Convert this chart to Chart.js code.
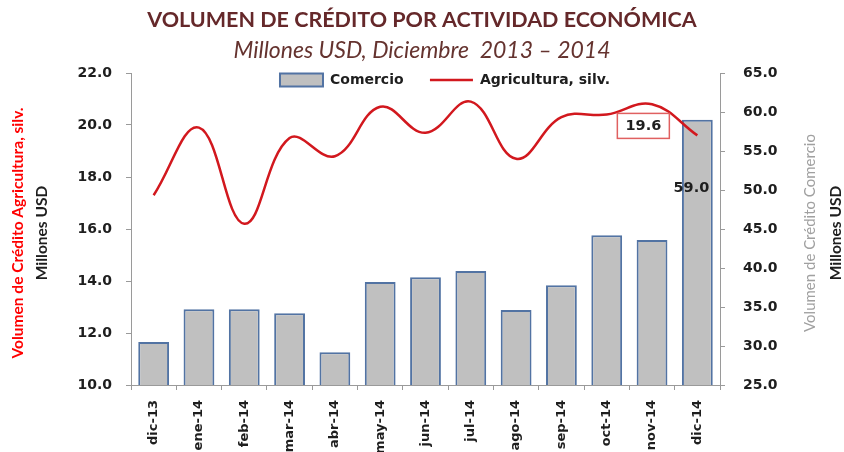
<!DOCTYPE html>
<html>
<head>
<meta charset="utf-8">
<script src="https://cdn.jsdelivr.net/npm/chart.js@4.4.1/dist/chart.umd.min.js"></script>
<style>
  html, body { margin: 0; padding: 0; background: #fff; }
</style>
</head>
<body>
<canvas id="chart" width="844" height="452"></canvas>
<script>
// ===== Data =====
const months = ['dic-13', 'ene-14', 'feb-14', 'mar-14', 'abr-14', 'may-14', 'jun-14',
                'jul-14', 'ago-14', 'sep-14', 'oct-14', 'nov-14', 'dic-14'];
const comercio = [30.5, 34.7, 34.7, 34.2, 29.2, 38.2, 38.8, 39.6, 34.6, 37.8, 44.2, 43.6, 59.0];
const agricultura = [17.3, 19.9, 16.2, 19.5, 18.8, 20.7, 19.7, 20.9, 18.7, 20.3, 20.4, 20.8, 19.6];
const leftTicks = [10, 12, 14, 16, 18, 20, 22];
const rightTicks = [25, 30, 35, 40, 45, 50, 55, 60, 65];

const TITLE_FONT = 'Lato';
const LABEL_FONT = '"DejaVu Sans"';
const AXIS_GRAY = '#9a9a9a';
const TEXT_DARK = '#1e1e1e';

// ===== Axis titles and value labels =====
function drawVertical(ctx, text, x, y, font, color) {
  ctx.save();
  ctx.translate(x, y);
  ctx.rotate(-Math.PI / 2);
  ctx.font = font;
  ctx.fillStyle = color;
  ctx.textAlign = 'center';
  ctx.textBaseline = 'middle';
  ctx.fillText(text, 0, 0);
  ctx.restore();
}

const extraText = {
  id: 'extraText',
  afterLayout(chart) {
    // legend sits inside the top of the plot, as in the original
    const lg = chart.legend;
    lg.top = chart.chartArea.top - 2;
    lg.bottom = lg.top + 30;
    lg.height = 30;
    lg.left = 46;
    lg.right = 844;
    lg.width = lg.right - lg.left;
  },
  afterDraw(chart) {
    const { ctx, chartArea } = chart;
    const cy = (chartArea.top + chartArea.bottom) / 2 + 4;

    drawVertical(ctx, 'Volumen de Crédito Agricultura, silv.', 18, cy, 'bold 15.5px ' + TITLE_FONT, '#ff0000');
    drawVertical(ctx, 'Millones USD', 42, cy, 'bold 15.5px ' + TITLE_FONT, TEXT_DARK);
    drawVertical(ctx, 'Volumen de Crédito Comercio', 810, cy, '15px ' + TITLE_FONT, '#a0a0a0');
    drawVertical(ctx, 'Millones USD', 836, cy, 'bold 15.5px ' + TITLE_FONT, TEXT_DARK);

    const last = months.length - 1;

    // boxed label on the last line point
    const pt = chart.getDatasetMeta(1).data[last];
    const bx = pt.x - 54, by = pt.y - 10;
    ctx.save();
    ctx.fillStyle = '#fff';
    ctx.strokeStyle = '#e06060';
    ctx.lineWidth = 1.5;
    ctx.fillRect(bx - 26, by - 12, 52, 25);
    ctx.strokeRect(bx - 26, by - 12, 52, 25);
    ctx.font = 'bold 14.5px ' + LABEL_FONT;
    ctx.fillStyle = TEXT_DARK;
    ctx.textAlign = 'center';
    ctx.textBaseline = 'middle';
    ctx.fillText(agricultura[last].toFixed(1), bx, by + 1);

    // label inside the last bar
    const bar = chart.getDatasetMeta(0).data[last];
    ctx.fillText(comercio[last].toFixed(1), bar.x - 6, bar.y + 68);
    ctx.restore();
  }
};

// ===== Chart =====
const ctx = document.getElementById('chart').getContext('2d');

new Chart(ctx, {
  type: 'bar',
  data: {
    labels: months,
    datasets: [
      {
        type: 'bar',
        label: 'Comercio',
        data: comercio,
        yAxisID: 'yR',
        backgroundColor: '#c0c0c0',
        borderColor: '#5273a3',
        borderWidth: 2,
        borderSkipped: false,
        categoryPercentage: 1,
        barPercentage: 0.68,
        pointStyle: 'rect',
        order: 2
      },
      {
        type: 'line',
        label: 'Agricultura, silv.',
        data: agricultura,
        yAxisID: 'yL',
        borderColor: '#d2181e',
        backgroundColor: '#d2181e',
        borderWidth: 2.5,
        pointRadius: 0,
        tension: 0.4,
        fill: false,
        pointStyle: 'line',
        order: 1
      }
    ]
  },
  options: {
    responsive: false,
    devicePixelRatio: 1,
    animation: false,
    layout: { padding: 0 },
    plugins: {
      title: {
        display: true,
        text: 'VOLUMEN DE CRÉDITO POR ACTIVIDAD ECONÓMICA',
        color: '#65282a',
        font: { family: TITLE_FONT, size: 21.5, weight: 'bold' },
        padding: { top: 7, bottom: 2 }
      },
      subtitle: {
        display: true,
        text: 'Millones USD, Diciembre  2013 – 2014',
        color: '#65332f',
        font: { family: TITLE_FONT, size: 23, style: 'italic' },
        padding: { top: 2, bottom: 7.6 }
      },
      legend: {
        position: 'top',
        maxHeight: 1,
        labels: {
          usePointStyle: true,
          pointStyleWidth: 43,
          boxHeight: 13,
          padding: 2,
          color: TEXT_DARK,
          font: { family: LABEL_FONT, size: 14, weight: 'bold' },
          generateLabels(chart) {
            const items = Chart.defaults.plugins.legend.labels.generateLabels(chart);
            items.sort((a, b) => a.datasetIndex - b.datasetIndex);
            items[0].text = items[0].text + '     ';
            return items;
          }
        }
      },
      tooltip: { enabled: false }
    },
    scales: {
      x: {
        offset: true,
        grid: { offset: true, drawOnChartArea: false, tickLength: 5, color: AXIS_GRAY },
        border: { color: AXIS_GRAY },
        ticks: {
          minRotation: 90,
          maxRotation: 90,
          padding: 10,
          color: TEXT_DARK,
          font: { family: LABEL_FONT, size: 13, weight: 'bold' }
        },
        afterFit(scale) { scale.height = 67; }
      },
      yL: {
        type: 'linear',
        position: 'left',
        min: leftTicks[0],
        max: leftTicks[leftTicks.length - 1],
        afterBuildTicks(scale) { scale.ticks = leftTicks.map(v => ({ value: v })); },
        grid: { drawOnChartArea: false, tickLength: 5, color: AXIS_GRAY },
        border: { color: AXIS_GRAY },
        ticks: {
          padding: 14,
          color: TEXT_DARK,
          font: { family: LABEL_FONT, size: 14, weight: 'bold' },
          callback: v => v.toFixed(1)
        },
        afterFit(scale) { scale.width = 131; }
      },
      yR: {
        type: 'linear',
        position: 'right',
        min: rightTicks[0],
        max: rightTicks[rightTicks.length - 1],
        afterBuildTicks(scale) { scale.ticks = rightTicks.map(v => ({ value: v })); },
        grid: { drawOnChartArea: false, tickLength: 5, color: AXIS_GRAY },
        border: { color: AXIS_GRAY },
        ticks: {
          padding: 18,
          color: TEXT_DARK,
          font: { family: LABEL_FONT, size: 14, weight: 'bold' },
          callback: v => v.toFixed(1)
        },
        afterFit(scale) { scale.width = 124; }
      }
    }
  },
  plugins: [extraText]
});
</script>
</body>
</html>
